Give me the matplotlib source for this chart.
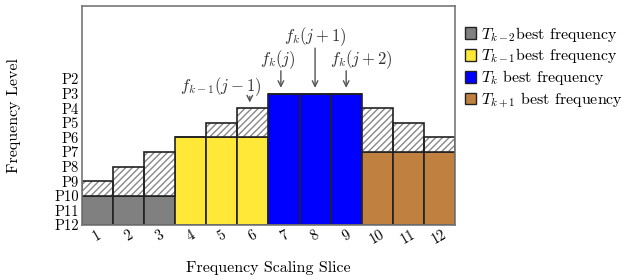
import matplotlib.pyplot as plt
import matplotlib.patches as mpatches

plt.rcParams['font.family'] = ['cmr10', 'DejaVu Serif']
plt.rcParams['mathtext.fontset'] = 'cm'
plt.rcParams['axes.formatter.use_mathtext'] = True

slices = [1, 2, 3, 4, 5, 6, 7, 8, 9, 10, 11, 12]
# levels counted up from P12 (=0)
best_level = [2, 2, 2, 6, 6, 6, 9, 9, 9, 5, 5, 5]
hatch_level = [3, 4, 5, 6, 7, 8, 9, 9, 9, 8, 7, 6]
groups = [0, 0, 0, 1, 1, 1, 2, 2, 2, 3, 3, 3]
colors = ['#808080', '#FFE838', '#0000FF', '#C0803F']
labels = [r'$T_{k-2}$best frequency', r'$T_{k-1}$best frequency',
          r'$T_k$ best frequency', r'$T_{k+1}$ best frequency']
ytick_labels = ['P12', 'P11', 'P10', 'P9', 'P8', 'P7', 'P6', 'P5', 'P4', 'P3', 'P2']

fig = plt.figure(figsize=(6.25, 2.8), dpi=100)
ax = fig.add_axes([0.131, 0.196, 0.597, 0.783])

bar_colors = [colors[g] for g in groups]
extra = [h - b for h, b in zip(hatch_level, best_level)]

ax.bar(slices, best_level, width=1, color=bar_colors, edgecolor='#222222', linewidth=1.2)
ax.bar(slices, extra, bottom=best_level, width=1, color='white', edgecolor='#888888',
       hatch='/////', linewidth=0)
ax.bar(slices, extra, bottom=best_level, width=1, fill=False, edgecolor='#222222', linewidth=1.2)

ax.set_xlim(0.5, 12.5)
ax.set_ylim(0, 15)
ax.set_yticks(range(len(ytick_labels)))
ax.set_yticklabels(ytick_labels, fontsize=10.5)
ax.set_xticks(slices)
ax.set_xticklabels([str(s) for s in slices], rotation=30, fontsize=10.5)
ax.tick_params(length=0, pad=2)
for sp in ax.spines.values():
    sp.set_color('#777777')
    sp.set_linewidth(1.2)

ax.set_ylabel('Frequency Level', fontsize=11.5, labelpad=24)
ax.set_xlabel('Frequency Scaling Slice', fontsize=11.5, labelpad=10)

arrow = dict(arrowstyle='->', color='#555555', lw=1.0)
tcol = '#333333'
ax.text(4.97, 9.5, r'$f_{k-1}(j-1)$', ha='center', va='center', fontsize=12, color=tcol)
ax.annotate('', xy=(5.9, 8.2), xytext=(5.9, 9.0), arrowprops=arrow)
ax.text(6.8, 11.3, r'$f_k(j)$', ha='center', va='center', fontsize=12, color=tcol)
ax.annotate('', xy=(6.9, 9.2), xytext=(6.9, 10.75), arrowprops=arrow)
ax.text(8.0, 12.9, r'$f_k(j+1)$', ha='center', va='center', fontsize=12, color=tcol)
ax.annotate('', xy=(8.0, 9.2), xytext=(8.0, 12.3), arrowprops=arrow)
ax.text(9.5, 11.3, r'$f_k(j+2)$', ha='center', va='center', fontsize=12, color=tcol)
ax.annotate('', xy=(9.0, 9.2), xytext=(9.0, 10.75), arrowprops=arrow)

handles = [mpatches.Patch(facecolor=c, edgecolor='#222222', linewidth=1.0) for c in colors]
fig.legend(handles, labels, loc='upper left', bbox_to_anchor=(0.733, 0.935), frameon=False,
           fontsize=11.5, handlelength=0.75, handleheight=0.75, handletextpad=0.3,
           labelspacing=0.18, borderaxespad=0)

fig.savefig('out.png', dpi=100)
